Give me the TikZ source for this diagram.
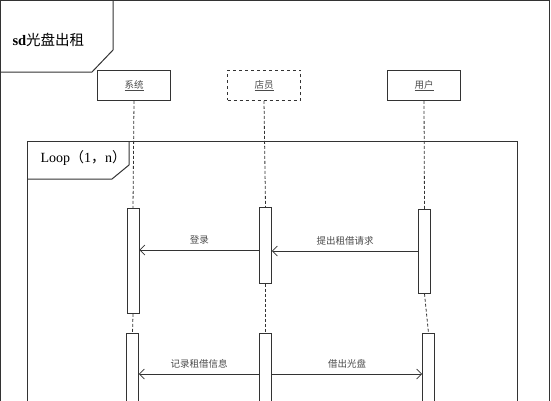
\documentclass[tikz,border=0pt]{standalone}
\usepackage{fontspec}
\setmainfont{Liberation Serif}
\newfontfamily\cjk{Noto Sans CJK SC}
\usetikzlibrary{positioning,calc,arrows.meta}
\definecolor{linegray}{HTML}{333333}
\definecolor{textgray}{HTML}{4A4A4A}
\newcommand{\seqbar}[4]{%
  \node[barbox,minimum height=#4 pt] (#1) at (#2,#3) {};
}
\newcommand{\seqmsg}[4]{%
  \draw[msg] (#1 |- 0,#3) -- (#2 |- 0,#3)
    node[midway,above=2pt,text=textgray,font=\cjk\fontsize{9.5}{10}\selectfont] {#4};
}

\begin{document}
\begin{tikzpicture}[x=1pt,y=-1pt,
  headbox/.style={draw=linegray,line width=0.9pt,minimum width=73pt,minimum height=30pt,
                  inner sep=0pt,anchor=north,text=textgray,font=\cjk\fontsize{9.5}{10}\selectfont},
  barbox/.style={draw=linegray,line width=0.8pt,fill=white,minimum width=12pt,
                 inner sep=0pt,anchor=north},
  life/.style={draw=linegray,line width=0.8pt,dash pattern=on 3pt off 2pt},
  msg/.style={draw=linegray,line width=0.7pt,-{Straight Barb[length=5pt,width=10pt]}},
  frm/.style={draw=linegray,line width=1pt}]
  \clip (0,0) rectangle (551,400);
  % sd frame
  \draw[frm] (0.5,0.5) rectangle (549,430);
  \draw[frm] (113,0.5) -- (113,50) -- (92,72) -- (0.5,72);
  \node[anchor=west,font=\fontsize{14.5}{16}\selectfont] (title) at (9,40)
        {\textbf{sd}\cjk 光盘出租};
  % loop fragment
  \draw[frm] (27,141) rectangle (517,430);
  \draw[frm] (129,141) -- (129,165) -- (112,179) -- (27,179);
  \node[anchor=west,font=\fontsize{14}{16}\selectfont] (loop) at (37,158)
        {Loop{\cjk （}1{\cjk ，}n{\cjk ）}};
  % heads
  \foreach \n/\x/\t/\s in {xitong/134/系统/solid, dianyuan/264/店员/dashed, yonghu/424/用户/solid}
    \node[headbox,\s] (\n) at (\x,70) {\underline{\t}};
  % activations
  \seqbar{xitongA}{133}{208}{105}
  \seqbar{dianyuanA}{265.5}{207}{76}
  \seqbar{yonghuA}{424.5}{209}{84}
  \seqbar{xitongB}{132.5}{333}{90}
  \seqbar{dianyuanB}{265.5}{333}{90}
  \seqbar{yonghuB}{428.5}{333}{90}
  % lifelines
  \foreach \n in {xitong,dianyuan,yonghu} {
    \draw[life] (\n.south) -- (\n A.north);
    \draw[life] (\n A.south) -- (\n B.north);
  }
  % messages
  \seqmsg{dianyuanA.west}{xitongA.east}{250}{登录}
  \seqmsg{yonghuA.west}{dianyuanA.east}{251}{提出租借请求}
  \seqmsg{dianyuanB.west}{xitongB.east}{374}{记录租借信息}
  \seqmsg{dianyuanB.east}{yonghuB.west}{374}{借出光盘}
\end{tikzpicture}
\end{document}
